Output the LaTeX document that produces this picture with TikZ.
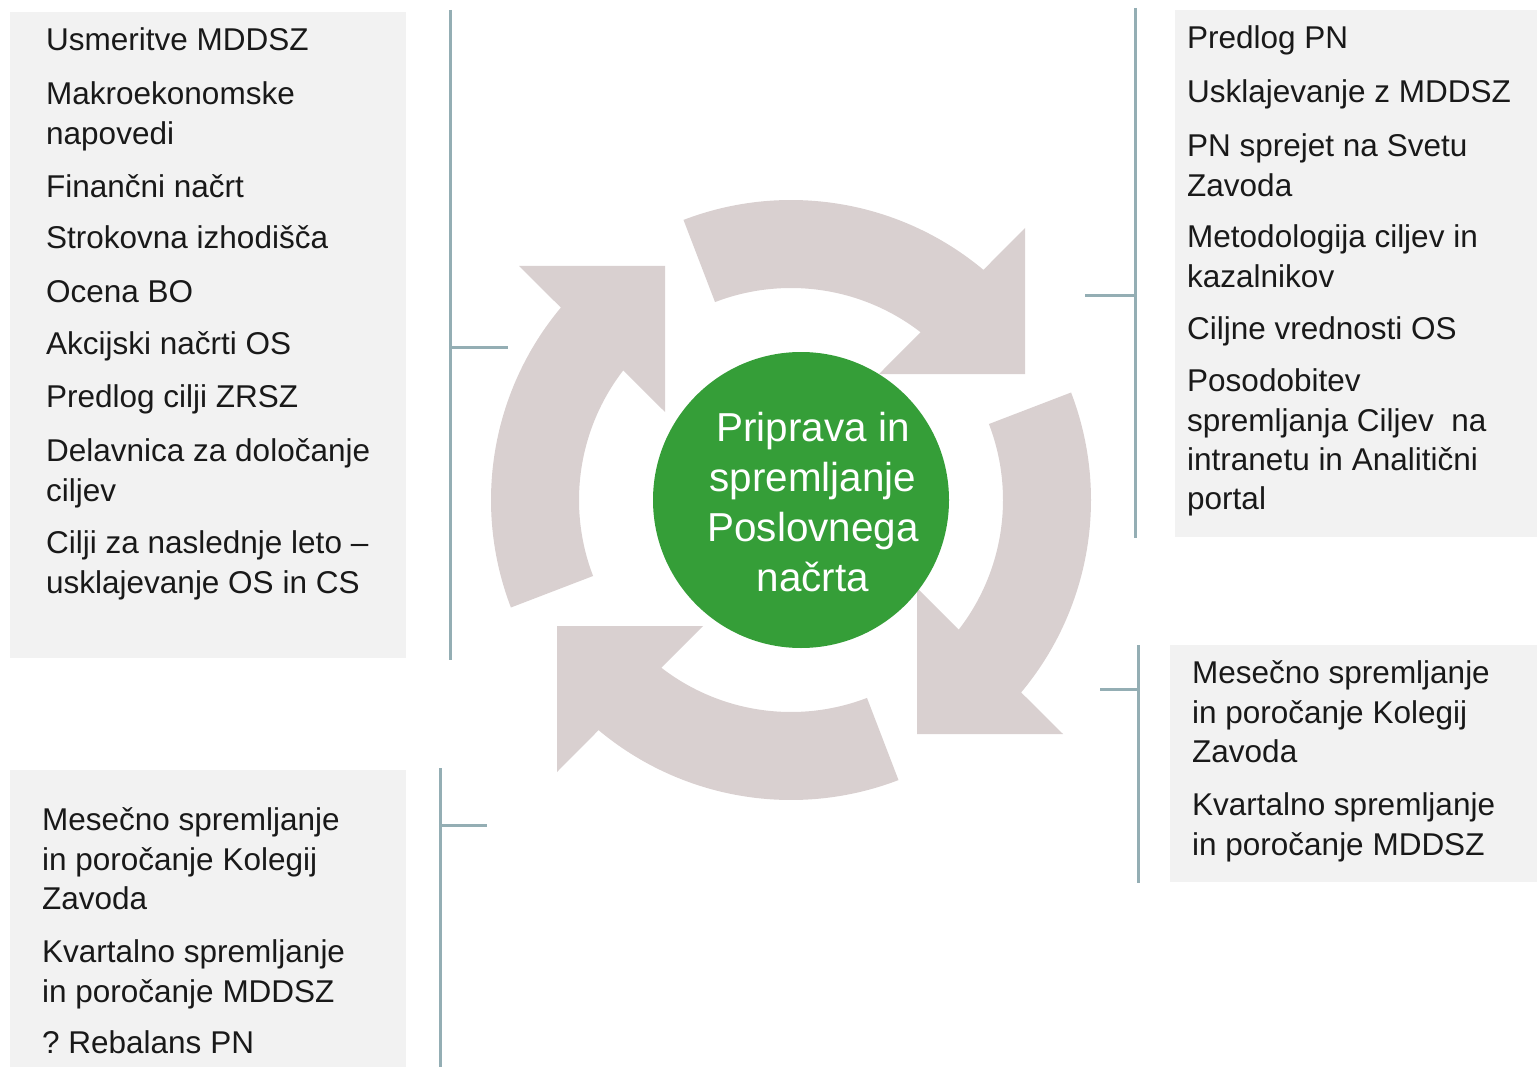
\documentclass[tikz,border=0pt]{standalone}
\usepackage{fontspec}
\setmainfont{Liberation Sans}
\frenchspacing
\definecolor{boxgray}{RGB}{242,242,242}
\definecolor{arrowgray}{RGB}{217,208,208}
\definecolor{coregreen}{RGB}{53,158,56}
\definecolor{bracketcol}{RGB}{148,174,180}
\begin{document}
\begin{tikzpicture}[x=1pt,y=-1pt,
  box/.style={fill=boxgray, draw=none, inner sep=0pt, anchor=north west},
  item/.style={anchor=north west, inner sep=0pt, align=left, text=black!90,
    font=\fontsize{31.5}{39.3}\selectfont},
  bracketline/.style={draw=bracketcol, line width=3pt},
  arrowblock/.style={fill=arrowgray, draw=none}]
\useasboundingbox (0,0) rectangle (1537,1067);

% grey boxes
\node[box, minimum width=396pt, minimum height=646pt] (boxLT) at (10,12) {};
\node[box, minimum width=396pt, minimum height=297pt] (boxLB) at (10,770) {};
\node[box, minimum width=362pt, minimum height=527pt] (boxRT) at (1175,10) {};
\node[box, minimum width=367pt, minimum height=237pt] (boxRB) at (1170,645) {};

% circular block arrows
\foreach \rot in {0,-90,-180,90} {
  \begin{scope}[shift={(791,500)}, y=1pt, rotate=\rot]
    \fill[arrowblock] (111:300) arc[start angle=111, end angle=50.1, radius=300]
      -- (234,272) -- (234,126) -- (88,126) -- (52.3:212)
      arc[start angle=52.3, end angle=111, radius=212] -- cycle;
  \end{scope}
}

% centre
\node[circle, fill=coregreen, minimum size=296pt, inner sep=0pt] (core) at (801,500) {};
\node[anchor=north, align=center, inner sep=0pt, text=white,
  font=\fontsize{40.4}{50}\selectfont] (coretext) at (813,406)
  {\strut Priprava in\\spremljanje\\Poslovnega\\načrta};

% brackets
\coordinate (ltA) at (450,10);  \coordinate (ltB) at (450,660);
\coordinate (ltT) at (450,348); \coordinate (ltE) at (508,348);
\draw[bracketline] (ltA) -- (ltB);
\draw[bracketline] (ltT) -- (ltE);

\coordinate (rtA) at (1135,8);  \coordinate (rtB) at (1135,538);
\coordinate (rtT) at (1135,296); \coordinate (rtE) at (1085,296);
\draw[bracketline] (rtA) -- (rtB);
\draw[bracketline] (rtT) -- (rtE);

\coordinate (rbA) at (1138,645); \coordinate (rbB) at (1138,883);
\coordinate (rbT) at (1138,689); \coordinate (rbE) at (1100,689);
\draw[bracketline] (rbA) -- (rbB);
\draw[bracketline] (rbT) -- (rbE);

\coordinate (lbA) at (440,768); \coordinate (lbB) at (440,1067);
\coordinate (lbT) at (440,825); \coordinate (lbE) at (487,825);
\draw[bracketline] (lbA) -- (lbB);
\draw[bracketline] (lbT) -- (lbE);

% left top texts
\node[item] (lt1) at (46,23)  {\strut Usmeritve MDDSZ};
\node[item] (lt2) at (46,77)  {\strut Makroekonomske\\napovedi};
\node[item] (lt3) at (46,170) {\strut Finančni načrt};
\node[item] (lt4) at (46,221) {\strut Strokovna izhodišča};
\node[item] (lt5) at (46,275) {\strut Ocena BO};
\node[item] (lt6) at (46,327) {\strut Akcijski načrti OS};
\node[item] (lt7) at (46,380) {\strut Predlog cilji ZRSZ};
\node[item] (lt8) at (46,434) {\strut Delavnica za določanje\\ciljev};
\node[item] (lt9) at (46,526) {\strut Cilji za naslednje leto –\\usklajevanje OS in CS};

% right top texts
\node[item] (rt1) at (1187,21)  {\strut Predlog PN};
\node[item] (rt2) at (1187,75)  {\strut Usklajevanje z MDDSZ};
\node[item] (rt3) at (1187,129) {\strut PN sprejet na Svetu\\Zavoda};
\node[item] (rt4) at (1187,220) {\strut Metodologija ciljev in\\kazalnikov};
\node[item] (rt5) at (1187,312) {\strut Ciljne vrednosti OS};
\node[item] (rt6) at (1187,364) {\strut Posodobitev\\spremljanja Ciljev\ \ na\\intranetu in Analitični\\portal};

% right bottom texts
\node[item] (rb1) at (1192,656) {\strut Mesečno spremljanje\\in poročanje Kolegij\\Zavoda};
\node[item] (rb2) at (1192,788) {\strut Kvartalno spremljanje\\in poročanje MDDSZ};

% left bottom texts
\node[item] (lb1) at (42,803)  {\strut Mesečno spremljanje\\in poročanje Kolegij\\Zavoda};
\node[item] (lb2) at (42,935)  {\strut Kvartalno spremljanje\\in poročanje MDDSZ};
\node[item] (lb3) at (42,1026) {\strut ? Rebalans PN};
\end{tikzpicture}
\end{document}
